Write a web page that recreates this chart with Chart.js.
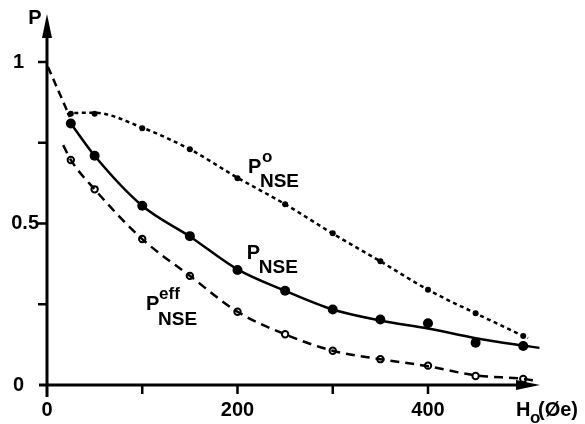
<!doctype html>
<html lang="en">
	<head>
		<meta charset="utf-8">
		<title>P NSE vs H0</title>
		<script src="https://cdn.jsdelivr.net/npm/chart.js"></script>
		<style>
			body { margin: 0; background: #fff; }
			#chart { display: block; }
		</style>
	</head>
	<body>
		<canvas id="chart" width="585" height="424"></canvas>
		<script>

			// measured field values H0 (Oe)
			var hField = [25, 50, 100, 150, 200, 250, 300, 350, 400, 450, 500];

			// P0_NSE (small dots, dotted curve)
			var pNseZero = [0.84, 0.84, 0.795, 0.73, 0.64, 0.56, 0.47, 0.383, 0.295, 0.222, 0.152];
			var zeroCurveH = [21, 25, 50, 100, 150, 200, 250, 300, 350, 400, 450, 500, 505];
			var zeroCurve = [0.838, 0.842, 0.843, 0.797, 0.73, 0.642, 0.56, 0.469, 0.383, 0.295, 0.222, 0.152, 0.145];

			// P_NSE (filled circles, solid curve)
			var pNse = [0.81, 0.71, 0.555, 0.461, 0.356, 0.292, 0.234, 0.203, 0.191, 0.131, 0.121];
			var nseCurveH = [25, 50, 100, 150, 200, 250, 300, 350, 400, 450, 500, 517];
			var nseCurve = [0.81, 0.71, 0.555, 0.46, 0.358, 0.292, 0.234, 0.2, 0.175, 0.145, 0.122, 0.115];

			// dashed extrapolation of P_NSE to H0 = 0
			var extraH = [1, 24];
			var extraP = [0.985, 0.83];

			// P_eff_NSE (open circles, dashed curve)
			var pNseEff = [0.697, 0.606, 0.452, 0.338, 0.227, 0.157, 0.106, 0.08, 0.06, 0.028, 0.019];
			var effCurveH = [17, 25, 50, 100, 150, 200, 250, 300, 350, 400, 450, 500, 512];
			var effCurve = [0.743, 0.697, 0.606, 0.452, 0.338, 0.227, 0.157, 0.106, 0.08, 0.058, 0.03, 0.019, 0.014];

			// axis ticks
			var xTickMarks = [100, 200, 300, 400];
			var xTickLabels = [0, 200, 400];
			var yTickMarks = [0.25, 0.5, 0.75, 1];
			var yTickLabels = ['0', '0.5', '1'];
			var yTickValues = [0, 0.5, 1];

			function pts(xs, ys) {
				return xs.map(function (x, i) { return { x: x, y: ys[i] }; });
			}

			var font = 'bold 20px "Liberation Sans", Arial, sans-serif';
			var smallFont = 'bold 17px "Liberation Sans", Arial, sans-serif';

			// P with super and subscript, anchored in data coordinates
			function seriesLabel(ctx, xs, ys, hx, py, sup, dx, dy) {
				var x = xs.getPixelForValue(hx);
				var y = ys.getPixelForValue(py);
				ctx.textAlign = 'left';
				ctx.textBaseline = 'alphabetic';
				ctx.font = font;
				ctx.fillText('P', x, y);
				ctx.font = smallFont;
				ctx.fillText(sup, x + dx, y - 11);
				ctx.font = 'bold 19px "Liberation Sans", Arial, sans-serif';
				ctx.fillText('NSE', x + 12, y + dy);
			}

			var axesPlugin = {
				id: 'axes',
				afterDraw: function (chart) {
					var ctx = chart.ctx;
					var xs = chart.scales.x;
					var ys = chart.scales.y;
					var x0 = xs.getPixelForValue(0);
					var y0 = ys.getPixelForValue(0);
					ctx.save();
					ctx.strokeStyle = '#000';
					ctx.fillStyle = '#000';
					ctx.lineCap = 'butt';

					// axis lines
					ctx.lineWidth = 3;
					ctx.beginPath();
					ctx.moveTo(x0, y0 + 12);
					ctx.lineTo(x0, ys.top + 18);
					ctx.moveTo(x0 - 8, y0);
					ctx.lineTo(xs.right - 18, y0);
					ctx.stroke();

					// arrow heads
					ctx.beginPath();
					ctx.moveTo(x0, ys.top);
					ctx.lineTo(x0 - 5, ys.top + 24);
					ctx.lineTo(x0 + 5, ys.top + 24);
					ctx.closePath();
					ctx.fill();
					ctx.beginPath();
					ctx.moveTo(xs.right, y0);
					ctx.lineTo(xs.right - 24, y0 - 5);
					ctx.lineTo(xs.right - 24, y0 + 5);
					ctx.closePath();
					ctx.fill();

					// tick marks
					ctx.lineWidth = 2.5;
					ctx.beginPath();
					yTickMarks.forEach(function (v) {
						var y = ys.getPixelForValue(v);
						ctx.moveTo(x0 - 9, y);
						ctx.lineTo(x0, y);
					});
					xTickMarks.forEach(function (v) {
						var x = xs.getPixelForValue(v);
						ctx.moveTo(x, y0);
						ctx.lineTo(x, y0 + 9);
					});
					ctx.stroke();

					// tick labels
					ctx.font = font;
					ctx.textBaseline = 'middle';
					ctx.textAlign = 'center';
					xTickLabels.forEach(function (v) {
						ctx.fillText(String(v), xs.getPixelForValue(v), y0 + 25);
					});
					ctx.textAlign = 'right';
					yTickValues.forEach(function (v, i) {
						ctx.fillText(yTickLabels[i], x0 - (i === 1 ? 8 : 23), ys.getPixelForValue(v));
					});

					// axis titles
					ctx.textAlign = 'center';
					ctx.fillText('P', x0 - 12, ys.top + 4);
					ctx.textAlign = 'left';
					ctx.fillText('H', xs.right - 24, y0 + 25);
					ctx.font = smallFont;
					ctx.fillText('o', xs.right - 10, y0 + 33);
					ctx.font = font;
					ctx.fillText('(Øe)', xs.right - 2, y0 + 25);

					// series labels
					seriesLabel(ctx, xs, ys, 211, 0.656, 'o', 14, 14);
					seriesLabel(ctx, xs, ys, 209.7, 0.389, '', 14, 14);
					seriesLabel(ctx, xs, ys, 104, 0.232, 'eff', 13, 15);
					ctx.restore();
				}
			};

			var curveBase = {
				type: 'line',
				borderColor: '#000',
				borderWidth: 2.5,
				pointRadius: 0,
				fill: false,
				cubicInterpolationMode: 'monotone',
				showLine: true
			};

			var config = {
				type: 'scatter',
				data: {
					datasets: [
						Object.assign({}, curveBase, { data: pts(zeroCurveH, zeroCurve), borderDash: [4, 3.5] }),
						Object.assign({}, curveBase, { data: pts(nseCurveH, nseCurve), borderDash: [] }),
						Object.assign({}, curveBase, { data: pts(extraH, extraP), borderDash: [8, 5], cubicInterpolationMode: 'default' }),
						Object.assign({}, curveBase, { data: pts(effCurveH, effCurve), borderDash: [9, 6] }),
						{
							data: pts(hField, pNseZero),
							pointRadius: 3,
							pointBackgroundColor: '#000',
							pointBorderWidth: 0,
							showLine: false
						},
						{
							data: pts(hField, pNse),
							pointRadius: 5,
							pointBackgroundColor: '#000',
							pointBorderWidth: 0,
							showLine: false
						},
						{
							data: pts(hField, pNseEff),
							pointRadius: 3.2,
							pointBackgroundColor: '#fff',
							pointBorderColor: '#000',
							pointBorderWidth: 2,
							showLine: false
						}
					]
				},
				options: {
					responsive: false,
					animation: false,
					devicePixelRatio: 1,
					layout: {
						padding: { left: 47, top: 14, right: 45, bottom: 39 }
					},
					plugins: {
						legend: false,
						tooltip: { enabled: false }
					},
					scales: {
						x: { type: 'linear', display: false, min: 0, max: 517.6 },
						y: { type: 'linear', display: false, min: 0, max: 1.149 }
					}
				},
				plugins: [axesPlugin]
			};

			new Chart(document.getElementById('chart'), config);

		</script>
	</body>
</html>
